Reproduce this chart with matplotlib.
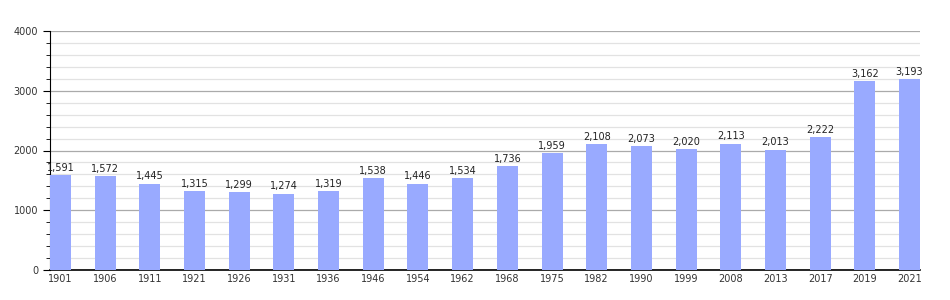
import matplotlib
matplotlib.use("Agg")
from matplotlib import pyplot as plt
from matplotlib.ticker import MultipleLocator
import numpy as np

years = ["1901", "1906", "1911", "1921", "1926", "1931", "1936", "1946", "1954", "1962",
         "1968", "1975", "1982", "1990", "1999", "2008", "2013", "2017", "2019", "2021"]
population = [1591, 1572, 1445, 1315, 1299, 1274, 1319, 1538, 1446, 1534,
              1736, 1959, 2108, 2073, 2020, 2113, 2013, 2222, 3162, 3193]

fig = plt.figure(figsize=(9.5, 3), dpi=100)
ax = fig.add_axes([50 / 950, 30 / 300, 870 / 950, 239 / 300])

x = np.arange(len(years))
width = 0.47
ax.bar(x, population, width=width, color="#99aaff", zorder=3)

for xi, v in zip(x, population):
    ax.text(xi, v + 40, f"{v:,}", ha="center", va="bottom", fontsize=7, color="#222222")

ax.set_xlim(-width / 2, len(years) - 1 + width / 2)
ax.set_ylim(0, 4000)
ax.set_xticks(x)
ax.set_xticklabels(years)
ax.yaxis.set_major_locator(MultipleLocator(1000))
ax.yaxis.set_minor_locator(MultipleLocator(200))

ax.grid(axis="y", which="major", color="#aaaaaa", linewidth=0.9, zorder=0)
ax.grid(axis="y", which="minor", color="#e2e2e2", linewidth=0.9, zorder=0)

for side in ["top", "right"]:
    ax.spines[side].set_visible(False)
ax.spines["left"].set_color("black")
ax.spines["bottom"].set_color("black")
ax.spines["bottom"].set_linewidth(1.2)

ax.tick_params(axis="x", length=0, labelsize=7, colors="#333333", pad=3)
ax.tick_params(axis="y", which="major", length=5, labelsize=7, colors="#333333")
ax.tick_params(axis="y", which="minor", length=3)
ax.tick_params(axis="y", which="both", color="black")

fig.savefig("out.png", dpi=100)
